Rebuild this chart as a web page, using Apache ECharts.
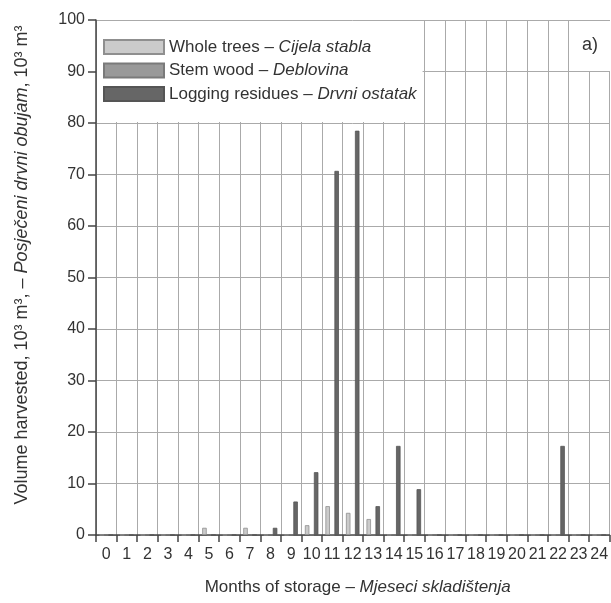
<!DOCTYPE html>
<html>
<head>
<meta charset="utf-8">
<script src="https://cdn.jsdelivr.net/npm/echarts@6/dist/echarts.min.js"></script>
<style>
html,body{margin:0;padding:0;background:#fff;}
#chart{width:611px;height:603px;}
</style>
</head>
<body>
<div id="chart"></div>
<script>
// ---- data ----
const months = ['0','1','2','3','4','5','6','7','8','9','10','11','12','13','14','15','16','17','18','19','20','21','22','23','24'];
const wholeTrees =     [0,0,0,0,0,1.4,0,1.4,0,0,1.9,5.6,4.3,3.1,0,0,0,0,0,0,0,0,0,0,0];
const stemWood =       [0,0,0,0,0,0,0,0,0,0,0,0,0,0,0,0,0,0,0,0,0,0,0,0,0];
const loggingResidues =[0,0,0,0,0,0,0,0,1.4,6.5,12.2,70.7,78.5,5.6,17.3,8.9,0,0,0,0,0,0,17.3,0,0];
const seriesNames = ['Whole trees – Cijela stabla','Stem wood – Deblovina','Logging residues – Drvni ostatak'];
const yTicks = {min:0, max:100, interval:10};

const FONT = "'Liberation Sans',Arial,sans-serif";
const TXT = '#333';

const chart = echarts.init(document.getElementById('chart'));
function bar(name, data, color, border, bw){
  return {
    name: name, type: 'bar', data: data,
    barWidth: 4.5, barGap: '0%',
    itemStyle: {color: color, borderColor: border, borderWidth: bw},
    emphasis: {disabled: true}
  };
}
function richAt(size){
  return {
    a: {fontFamily: FONT, fontSize: size, color: TXT, lineHeight: size + 2},
    b: {fontFamily: FONT, fontSize: size, color: TXT, fontStyle: 'italic', lineHeight: size + 2}
  };
}
chart.setOption({
  animation: false,
  textStyle: {fontFamily: FONT, color: TXT},
  title: {
    text: 'a)', right: 0, top: 21,
    backgroundColor: '#fff',
    padding: [15, 13, 17, 11],
    textStyle: {fontFamily: FONT, fontSize: 18, fontWeight: 'normal', color: TXT}
  },
  legend: {
    orient: 'vertical', left: 97, top: 21,
    backgroundColor: '#fff',
    padding: [17, 6, 19, 6],
    icon: 'rect',
    itemWidth: 60, itemHeight: 14, itemGap: 5.5,
    selectedMode: false,
    data: seriesNames,
    formatter: function(n){
      const p = n.split('– ');
      return '{a|' + p[0] + '– }{b|' + p[1] + '}';
    },
    textStyle: {
      fontFamily: FONT, fontSize: 17, color: TXT, lineHeight: 18,
      rich: {
        a: {fontFamily: FONT, fontSize: 17, color: TXT, lineHeight: 18},
        b: {fontFamily: FONT, fontSize: 17, color: TXT, fontStyle: 'italic', lineHeight: 18}
      }
    }
  },
  grid: {left: 96, top: 20, width: 515.6, height: 515, containLabel: false},
  xAxis: {
    type: 'category', data: months, boundaryGap: true,
    name: '{a|Months of storage – }{b|Mjeseci skladištenja}',
    nameLocation: 'middle', nameGap: 43,
    nameTextStyle: {fontFamily: FONT, fontSize: 17, color: TXT, padding: [0,0,0,10], rich: richAt(17)},
    axisLine: {lineStyle: {color: '#444', width: 1.5}},
    axisTick: {show: true, length: 7, alignWithLabel: false, lineStyle: {color: '#444', width: 1.5}},
    axisLabel: {fontFamily: FONT, fontSize: 16, color: TXT, margin: 12, interval: 0},
    splitLine: {show: true, interval: 0, lineStyle: {color: '#aaa', width: 1}}
  },
  yAxis: {
    type: 'value', min: yTicks.min, max: yTicks.max, interval: yTicks.interval,
    name: '{a|Volume harvested, 10³ m³, – }{b|Posječeni drvni obujam}{a|, 10³ m³}',
    nameLocation: 'middle', nameGap: 64,
    nameTextStyle: {fontFamily: FONT, fontSize: 18, color: TXT, padding: [0,0,0,25], rich: richAt(18)},
    axisLine: {show: true, lineStyle: {color: '#444', width: 1.5}},
    axisTick: {show: true, length: 8, lineStyle: {color: '#444', width: 1.5}},
    axisLabel: {fontFamily: FONT, fontSize: 16, color: TXT, margin: 11},
    splitLine: {show: true, lineStyle: {color: '#aaa', width: 1}}
  },
  series: [
    bar(seriesNames[0], wholeTrees, '#cbcbcb', '#8f8f8f', 0.8),
    bar(seriesNames[1], stemWood, '#999999', '#7a7a7a', 0.8),
    bar(seriesNames[2], loggingResidues, '#666666', '#555555', 0.8)
  ]
});
</script>
</body>
</html>
